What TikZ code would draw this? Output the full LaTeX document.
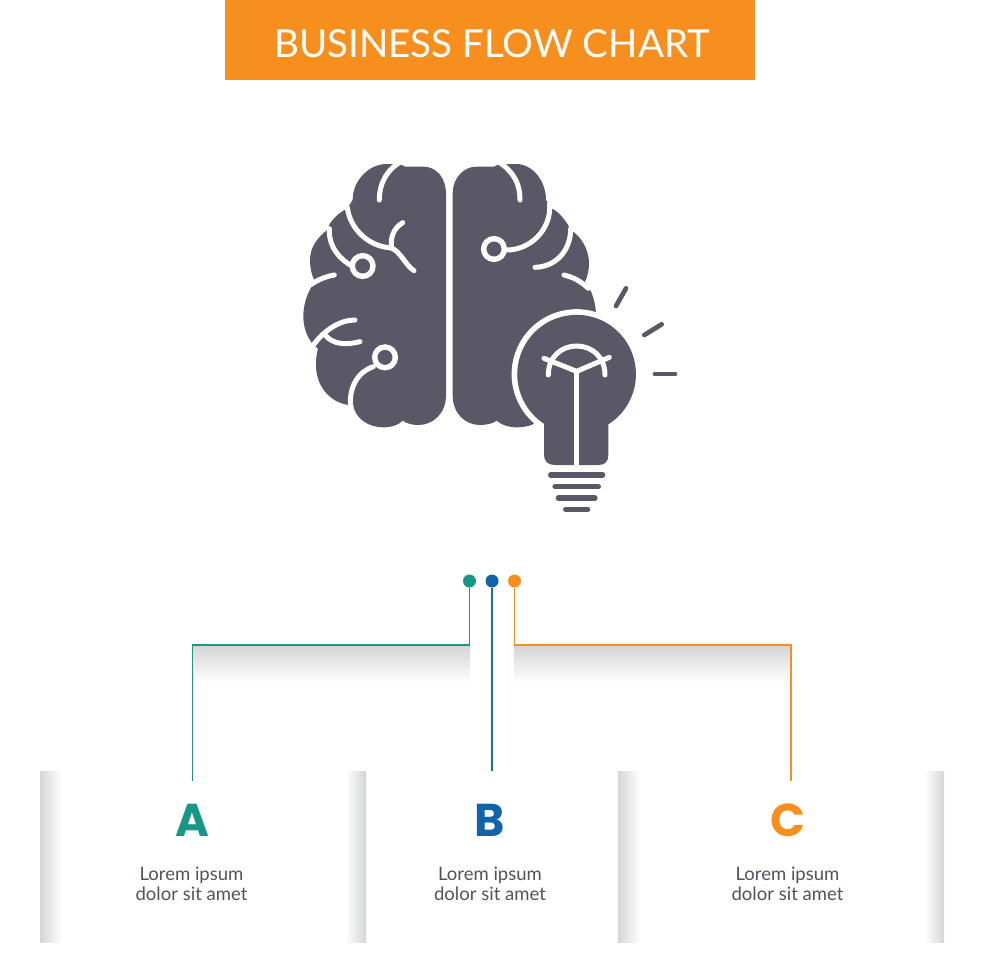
\documentclass[tikz,border=0pt]{standalone}
\usepackage{xcolor}
\usepackage{fontspec}
\setmainfont{Lato}
\newfontfamily\letterfont{Poppins Bold}
\usetikzlibrary{positioning}
\definecolor{titlecolor}{RGB}{247,143,30}
\definecolor{iconcolor}{RGB}{90,88,102}
\definecolor{tealcolor}{RGB}{26,150,135}
\definecolor{bluecolor}{RGB}{18,100,170}
\definecolor{textcolor}{RGB}{82,82,92}
\definecolor{fadecolor}{RGB}{212,213,213}
\tikzset{
    sidefade/.style={left color=fadecolor, right color=white},
    sidefadeflip/.style={left color=white, right color=fadecolor},
    linefade/.style={top color=fadecolor, bottom color=white},
    dotnode/.style={circle, fill=#1, inner sep=0pt, minimum size=13pt},
    linkline/.style={draw=#1, line width=1.5pt},
    lettertext/.style={text=#1, font=\letterfont\fontsize{46}{46}\selectfont},
    bodytext/.style={text=textcolor, align=center, font=\fontsize{18.5}{20}\selectfont},
    whitecurve/.style={draw=white, line width=5pt, line cap=round},
    ringcurve/.style={draw=white, fill=iconcolor, line width=5.4pt},
    baseline/.style={draw=iconcolor, line width=#1, line cap=round}
}
\begin{document}
\begin{tikzpicture}[x=1pt, y=-1pt]
    \useasboundingbox (0,0) rectangle (980,980);

    % Title
    \node[fill=titlecolor, minimum width=530pt, minimum height=80pt, inner sep=0pt] (titlebar) at (490,40) {};
    \node[text=white, font=\fontsize{38.5}{39}\selectfont] (titletext) at (492,44) {BUSINESS FLOW CHART};

    % Icon
    \begin{scope}[shift={(290,150)}, x=0.33333pt, y=-0.33333pt]
        % Left half
        \fill[iconcolor] (400,50) .. controls (440,50) and (468,85) .. (468,130) -- (468,735)
            .. controls (468,790) and (430,825) .. (385,825) .. controls (365,825) and (350,820) .. (338,812)
            .. controls (325,825) and (305,832) .. (280,832) .. controls (235,832) and (195,805) .. (190,765)
            -- (175,765) .. controls (115,755) and (78,705) .. (78,645) .. controls (78,625) and (80,610) .. (84,596)
            -- (70,585) .. controls (50,560) and (40,530) .. (40,500) .. controls (40,450) and (60,415) .. (75,395)
            .. controls (65,375) and (60,355) .. (60,330) .. controls (60,290) and (85,260) .. (112,240)
            .. controls (120,210) and (145,190) .. (172,175) -- (188,150) .. controls (188,90) and (238,42) .. (290,42)
            -- (330,42) -- (345,50) -- cycle;
        \draw[whitecurve] (268,150) .. controls (268,95) and (295,55) .. (335,34);
        \draw[whitecurve] (172,172) .. controls (180,240) and (240,290) .. (300,293) .. controls (330,300) and (345,345) .. (372,362);
        \draw[whitecurve] (338,218) .. controls (310,235) and (300,265) .. (305,293);
        \draw[whitecurve] (118,236) .. controls (115,290) and (150,330) .. (190,350);
        \draw[ringcurve] (218,348) circle[radius=31];
        \draw[whitecurve] (62,404) .. controls (90,385) and (115,378) .. (133,375);
        \draw[whitecurve] (64,594) .. controls (100,540) and (150,510) .. (195,510);
        \draw[whitecurve] (105,555) .. controls (130,585) and (170,585) .. (210,575);
        \draw[whitecurve] (250,650) .. controls (205,665) and (175,710) .. (182,775);
        \draw[ringcurve] (285,622) circle[radius=31];

        % Right half
        \fill[iconcolor] (488,130) .. controls (488,85) and (520,50) .. (560,50) -- (612,50) -- (628,42) -- (678,42)
            .. controls (730,42) and (768,95) .. (768,150) -- (785,175)
            .. controls (815,190) and (835,225) .. (842,240) .. controls (875,260) and (897,300) .. (897,340)
            .. controls (897,360) and (893,380) .. (885,395) .. controls (905,420) and (915,450) .. (918,490)
            -- (760,800) -- (725,825) .. controls (710,830) and (695,832) .. (680,832)
            .. controls (655,832) and (635,825) .. (620,812) .. controls (610,820) and (590,825) .. (570,825)
            .. controls (525,825) and (488,790) .. (488,735) -- cycle;
        \draw[whitecurve] (690,150) .. controls (690,95) and (665,60) .. (623,34);
        \draw[whitecurve] (779,160) .. controls (785,240) and (720,300) .. (650,300);
        \draw[ringcurve] (612,297) circle[radius=31];
        \draw[whitecurve] (842,236) .. controls (842,300) and (800,350) .. (735,352);
        \draw[whitecurve] (822,375) .. controls (850,382) and (870,392) .. (895,415);

        % Bulb
        \fill[iconcolor, preaction={draw=white, line width=11.4pt}] (762,823) -- (762,915)
            .. controls (762,935) and (775,945) .. (795,945) -- (925,945)
            .. controls (945,945) and (955,935) .. (955,915) -- (955,823)
            arc[start angle=57.7, end angle=-236.6, radius=178] -- cycle;
        \draw[draw=white, line width=5.3pt] (860,664) -- (860,950);
        \draw[whitecurve, line join=round] (762,625) -- (860,664) -- (958,622);
        \draw[whitecurve] (775,675) .. controls (775,620) and (815,588) .. (860,588) .. controls (905,588) and (945,620) .. (945,675);
        \draw[baseline=5.3pt] (782,975) -- (938,975);
        \draw[baseline=5.3pt] (795,1010) -- (925,1010);
        \draw[baseline=5.3pt] (805,1044) -- (915,1044);
        \draw[baseline=5.3pt] (827,1078) -- (893,1078);

        % Rays
        \draw[baseline=4.7pt] (978,468) -- (1008,415);
        \draw[baseline=4.7pt] (1063,555) -- (1115,523);
        \draw[baseline=4.7pt] (1095,672) -- (1155,672);
    \end{scope}

    % Fades
    \shade[linefade] (193,646) rectangle (470,682);
    \shade[linefade] (514,646) rectangle (791,682);
    \shade[sidefade] (40,771) rectangle (62,942);
    \shade[sidefadeflip] (345,771) rectangle (366,942);
    \shade[sidefade] (618,771) rectangle (640,942);
    \shade[sidefadeflip] (924,771) rectangle (944,942);

    % Dots
    \node[dotnode=tealcolor] (dotA) at (469.5,581) {};
    \node[dotnode=bluecolor] (dotB) at (492,581) {};
    \node[dotnode=titlecolor] (dotC) at (514.5,581) {};

    % Links
    \coordinate (elbowA) at (469.5,645);
    \coordinate (cornerA) at (192.5,645);
    \coordinate (endA) at (192.5,781);
    \coordinate (endB) at (492,771);
    \coordinate (elbowC) at (514.5,645);
    \coordinate (cornerC) at (791,645);
    \coordinate (endC) at (791,781);
    \draw[linkline=tealcolor] (dotA) -- (elbowA) -- (cornerA) -- (endA);
    \draw[linkline=bluecolor!75!tealcolor] (dotB) -- (endB);
    \draw[linkline=titlecolor] (dotC) -- (elbowC) -- (cornerC) -- (endC);

    % Letters
    \node[lettertext=tealcolor] (letterA) at (192,820) {A};
    \node[lettertext=bluecolor] (letterB) at (490,820) {B};
    \node[lettertext=titlecolor] (letterC) at (788,820) {C};

    % Captions
    \node[bodytext] (textA) at (191.5,884) {Lorem ipsum\\dolor sit amet};
    \node[bodytext] (textB) at (490,884) {Lorem ipsum\\dolor sit amet};
    \node[bodytext] (textC) at (787.5,884) {Lorem ipsum\\dolor sit amet};
\end{tikzpicture}
\end{document}
